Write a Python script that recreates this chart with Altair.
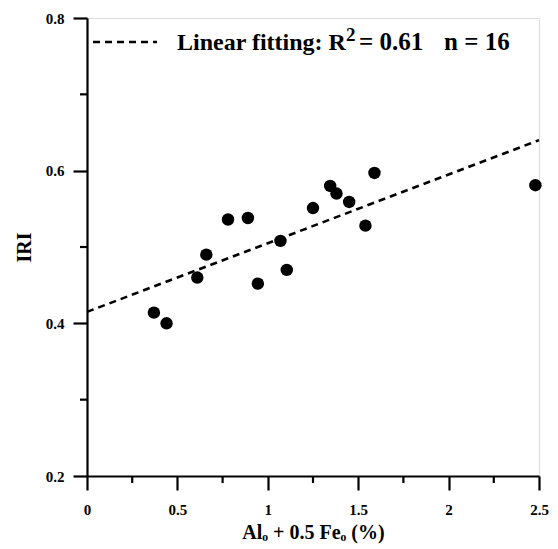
import altair as alt
import pandas as pd

# Data
x_vals = [0.37, 0.44, 0.61, 0.66, 0.78, 0.89, 0.945, 1.07, 1.105, 1.25, 1.345, 1.38, 1.45, 1.54, 1.59, 2.48]
y_vals = [0.414, 0.400, 0.460, 0.490, 0.536, 0.538, 0.452, 0.508, 0.470, 0.551, 0.580, 0.570, 0.559, 0.528, 0.597, 0.581]
fit_x = [0.0, 2.5]
fit_y = [0.415, 0.640]

x_ticks = [0, 0.5, 1, 1.5, 2, 2.5]
x_minor = [0.25, 0.75, 1.25, 1.75, 2.25]
y_ticks = [0.2, 0.4, 0.6, 0.8]
y_minor = [0.3, 0.5, 0.7]

legend_parts = ["Linear fitting: R", "2", "= 0.61", "n = 16"]

pts = pd.DataFrame({"x": x_vals, "y": y_vals})
fit = pd.DataFrame({"x": fit_x, "y": fit_y})

FONT = "Liberation Serif"
W, H = 452, 458
xscale = alt.Scale(domain=[0, 2.5], nice=False, zero=False)
yscale = alt.Scale(domain=[0.2, 0.8], nice=False, zero=False)

x_axis = alt.Axis(values=x_ticks, format="~g", title="Alₒ + 0.5 Feₒ (%)",
                  domainColor="black", domainWidth=2.2, tickColor="black", tickWidth=2.2,
                  tickSize=14, labelFont=FONT, labelFontWeight="bold", labelFontSize=15,
                  labelColor="black", labelPadding=12, titleFont=FONT, titleFontWeight="bold",
                  titleFontSize=20, titleColor="black", titlePadding=5, grid=False,
                  labelFlush=False)
y_axis = alt.Axis(values=y_ticks, format=".1f", title="IRI",
                  domainColor="black", domainWidth=2.2, tickColor="black", tickWidth=2.2,
                  tickSize=14, labelFont=FONT, labelFontWeight="bold", labelFontSize=15,
                  labelColor="black", labelPadding=9, titleFont=FONT, titleFontWeight="bold",
                  titleFontSize=20, titleColor="black", titlePadding=11, grid=False,
                  labelFlush=False)

points = alt.Chart(pts).mark_circle(size=155, color="black", opacity=1).encode(
    x=alt.X("x:Q", scale=xscale, axis=x_axis),
    y=alt.Y("y:Q", scale=yscale, axis=y_axis),
)

line = alt.Chart(fit).mark_line(color="black", strokeWidth=2.6, strokeDash=[7, 5]).encode(
    x=alt.X("x:Q", scale=xscale),
    y=alt.Y("y:Q", scale=yscale),
)

# minor ticks
minor_x = alt.Chart(pd.DataFrame({"x": x_minor})).mark_rule(color="black", strokeWidth=2.2).encode(
    x=alt.X("x:Q", scale=xscale), y=alt.value(H), y2=alt.value(H + 7))
minor_y = alt.Chart(pd.DataFrame({"y": y_minor})).mark_rule(color="black", strokeWidth=2.2).encode(
    y=alt.Y("y:Q", scale=yscale), x=alt.value(0), x2=alt.value(-7))

legend_line = alt.Chart(pd.DataFrame({"a": [0]})).mark_rule(
    color="black", strokeWidth=2.6, strokeDash=[7, 5]).encode(
    x=alt.value(6), x2=alt.value(70), y=alt.value(24))

def txt(t, x, y, size):
    return alt.Chart(pd.DataFrame({"a": [0]})).mark_text(
        text=t, font=FONT, fontWeight="bold", fontSize=size,
        align="left", baseline="alphabetic", color="black").encode(
        x=alt.value(x), y=alt.value(y))

leg1 = txt(legend_parts[0], 90, 32, 24)
leg2 = txt(legend_parts[1], 259, 23, 19)
leg3 = txt(legend_parts[2], 272, 32, 25)
leg4 = txt(legend_parts[3], 357, 32, 25)

chart = alt.layer(line, points, minor_x, minor_y, legend_line, leg1, leg2, leg3, leg4).properties(
    width=W, height=H,
    autosize=alt.AutoSizeParams(type="none"),
    padding={"left": 79, "top": 10, "right": 11, "bottom": 75},
).configure_view(stroke=None).configure(background="white")

chart.save("out.html", embed_options={"renderer": "svg", "actions": False})
